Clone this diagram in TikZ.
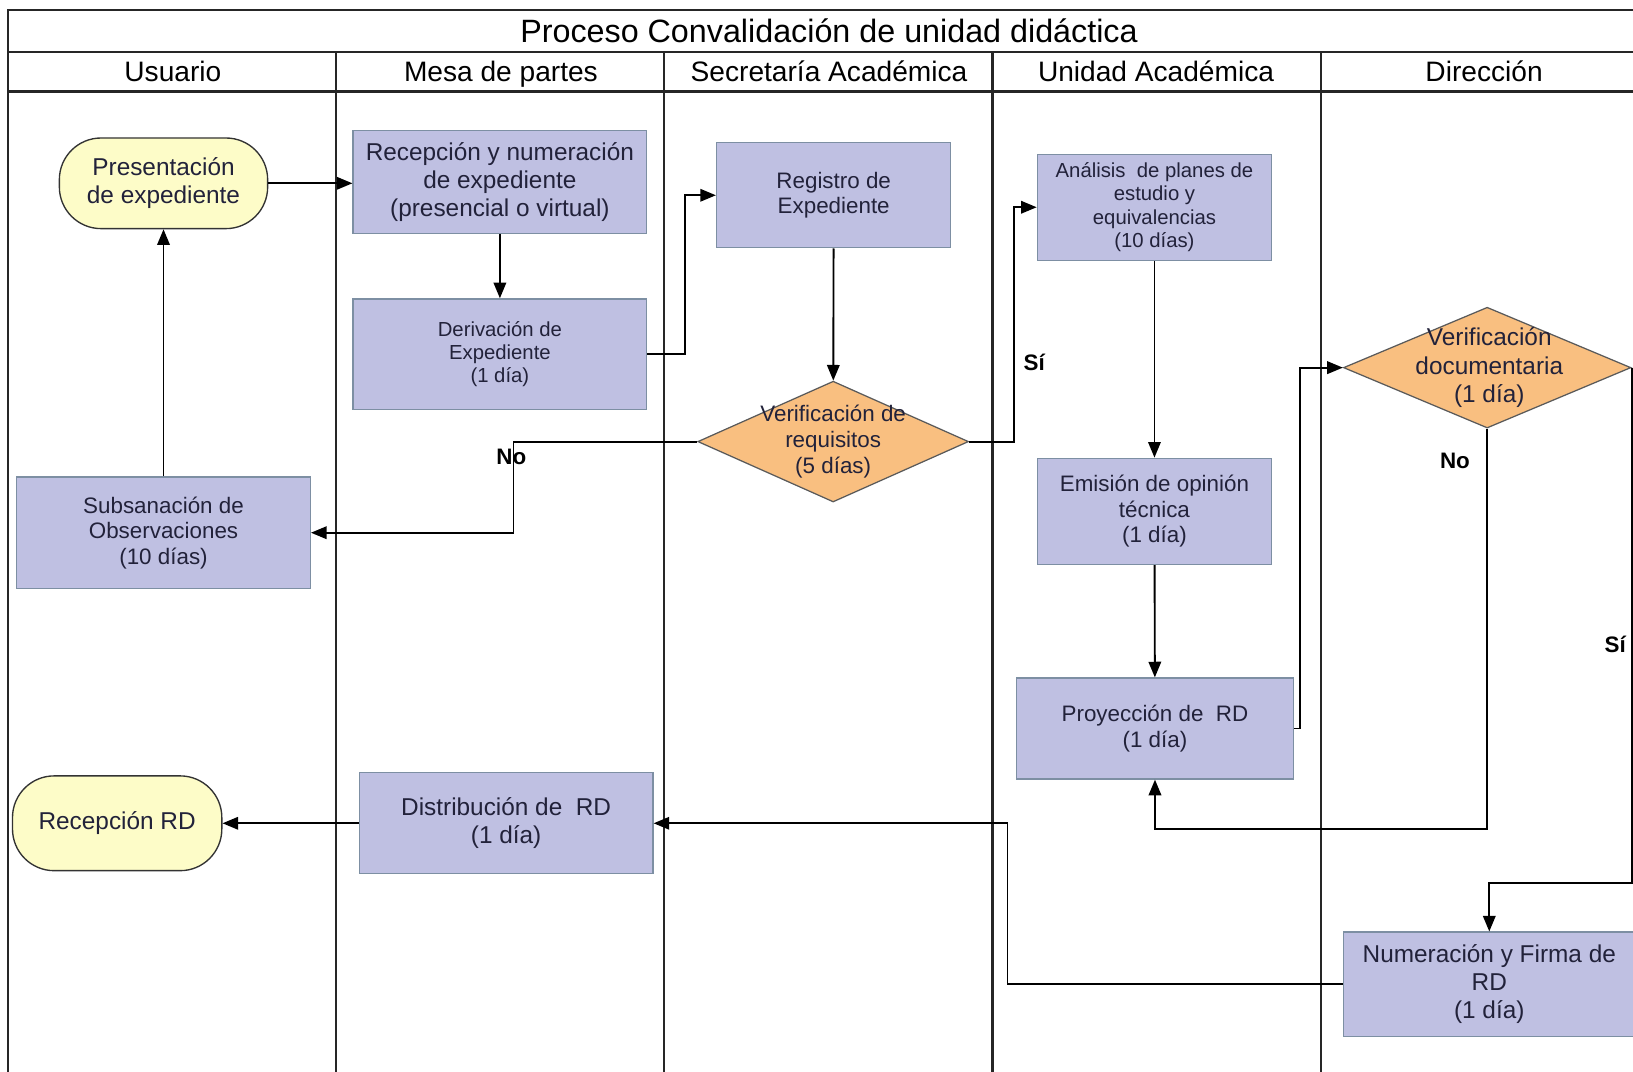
\documentclass[tikz,border=0pt]{standalone}
\usepackage{fontspec}
\setmainfont{Liberation Sans}
\usetikzlibrary{shapes.geometric,arrows.meta}
\definecolor{boxfill}{HTML}{BFC0E2}
\definecolor{boxline}{HTML}{7D8FA3}
\definecolor{decfill}{HTML}{F9BF80}
\definecolor{decline}{HTML}{5A5A5A}
\definecolor{termfill}{HTML}{FDFCC8}
\definecolor{txtcol}{HTML}{22223A}
\newcommand{\fsTitle}{\fontsize{31}{36}\selectfont}
\newcommand{\fsHead}{\fontsize{27}{32}\selectfont}
\newcommand{\fsA}{\fontsize{23.4}{27}\selectfont}
\newcommand{\fsB}{\fontsize{21.5}{24.5}\selectfont}
\newcommand{\fsC}{\fontsize{19.5}{22.5}\selectfont}
\begin{document}
\begin{tikzpicture}[x=1pt,y=-1pt,
  frameline/.style={line width=2pt, black!85},
  head/.style={font=\fsHead, text height=20pt, text depth=6pt},
  proc/.style={draw=boxline, fill=boxfill, line width=1.2pt, align=center,
    text=txtcol, inner sep=0pt},
  term/.style={draw=black!80, fill=termfill, rounded corners=40pt, line width=1.3pt,
    align=center, text=txtcol, inner sep=0pt},
  dec/.style={diamond, draw=decline, fill=decfill, line width=1.2pt, inner sep=0pt},
  dectext/.style={align=center, text=txtcol, inner sep=0pt, font=\fsB},
  flow/.style={line width=1.8pt, black, -{Triangle[length=15pt,width=12pt]}},
  lbl/.style={font=\bfseries\fsB, inner sep=0pt}]
\useasboundingbox (0,0) rectangle (1568,1029);
\clip (0,0) rectangle (1568,1029);
\fill[white] (0,0) rectangle (1568,1029);

% pool frame, title bar and lane headers
\draw[frameline] (1568,10) -- (8,10) -- (8,1029);
\draw[line width=2.5pt, black!85] (8,50) -- (1568,50);
\draw[line width=2.5pt, black!85] (8,88) -- (1568,88);
\foreach \lx in {323,638,953,1268}
  \draw[frameline] (\lx,50) -- (\lx,1029);
\node[font=\fsTitle] (title) at (796,30) {Proceso Convalidación de unidad didáctica};
\node[head] (hUsu) at (166,71) {Usuario};
\node[head] (hMesa) at (481,71) {Mesa de partes};
\node[head] (hSec) at (796,71) {Secretaría Académica};
\node[head] (hUni) at (1110,71) {Unidad Académica};
\node[head] (hDir) at (1425,71) {Dirección};

% activities
\node[term, font=\fsA, minimum width=200pt, minimum height=87pt] (pres) at (157,176)
  {Presentación\\de expediente};
\node[proc, font=\fsA, minimum width=282pt, minimum height=99pt] (recep) at (480,174.5)
  {Recepción y numeración\\de expediente\\(presencial o virtual)};
\node[proc, font=\fsC, minimum width=282pt, minimum height=106pt] (deriv) at (480,340)
  {Derivación de\\Expediente\\(1 día)};
\node[proc, font=\fsB, minimum width=225pt, minimum height=101pt] (regis) at (800.5,187.5)
  {Registro de\\Expediente};
\node[dec, minimum width=260pt, minimum height=116pt] (vreq) at (800,424) {};
\node[dectext] (vreqt) at (vreq) {Verificación de\\requisitos\\(5 días)};
\node[proc, font=\fsC, minimum width=225pt, minimum height=102pt] (anal) at (1108.5,199)
  {Análisis~ de planes de\\estudio y\\equivalencias\\(10 días)};
\node[proc, font=\fsB, minimum width=225pt, minimum height=102pt] (emis) at (1108.5,491)
  {Emisión de opinión\\técnica\\(1 día)};
\node[proc, font=\fsB, minimum width=266pt, minimum height=97pt] (proy) at (1109,699.5)
  {Proyección de~ RD\\(1 día)};
\node[dec, minimum width=276pt, minimum height=116pt] (vdoc) at (1428,353) {};
\node[dectext, font=\fsA] (vdoct) at (1430,353) {Verificación\\documentaria\\(1 día)};
\node[proc, font=\fsA, minimum width=280pt, minimum height=100pt] (numf) at (1430,945)
  {Numeración y Firma de\\RD\\(1 día)};
\node[proc, font=\fsA, minimum width=282pt, minimum height=97pt] (dist) at (486,790.5)
  {Distribución de~ RD\\(1 día)};
\node[term, font=\fsA, minimum width=201pt, minimum height=91pt] (recrd) at (112.5,790.5)
  {Recepción RD};
\node[proc, font=\fsB, minimum width=282pt, minimum height=107pt] (subs) at (157,511.5)
  {Subsanación de\\Observaciones\\(10 días)};

% waypoint of the rejection branch
\coordinate (noK) at (493,424);

% flow
\draw[flow] (pres.east) -- (pres.east -| recep.west);
\draw[flow] (recep) -- (deriv);
\draw[flow] (deriv.east) -- ++(36,0) |- (regis.west);
\draw[flow] (regis) -- (vreq);
\draw[flow] (vreq.east) -- ++(43,0) |- (anal.west);
\draw[flow] (vreq.west) -- (noK) |- (subs.east);
\draw[flow] (subs) -- (pres);
\draw[flow] (anal) -- (emis);
\draw[flow] (emis) -- (proy);
\draw[flow] (proy.east) -- ++(6,0) |- (vdoc.west);
\draw[flow] (vdoc.south) -- ++(0,384) -| (proy.south);
\draw[flow] (vdoc.east) -- ++(0,495) -| (numf.north);
\draw[flow] (numf.west) -- ++(-322,0) |- (dist.east);
\draw[flow] (dist.west) -- (recrd.east);

% branch labels
\node[lbl] (si1) at (993,348) {Sí};
\node[lbl] (no1) at (491,439) {No};
\node[lbl] (no2) at (1397,443) {No};
\node[lbl] (si2) at (1551,619) {Sí};
\end{tikzpicture}
\end{document}
